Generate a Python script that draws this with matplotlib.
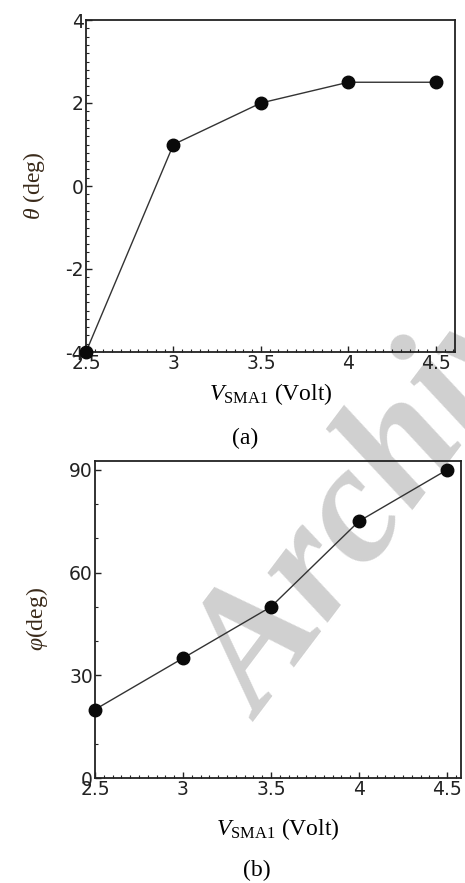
import matplotlib
matplotlib.use("Agg")
import matplotlib.pyplot as plt
from matplotlib.ticker import MultipleLocator

plt.rcParams["mathtext.fontset"] = "custom"
plt.rcParams["mathtext.rm"] = "Liberation Serif"
plt.rcParams["mathtext.it"] = "Liberation Serif:italic"
plt.rcParams["mathtext.bf"] = "Liberation Serif:bold"

v_sma1 = [2.5, 3.0, 3.5, 4.0, 4.5]
theta_deg = [-4.0, 1.0, 2.0, 2.5, 2.5]
phi_deg = [20, 35, 50, 75, 90]
x_ticks = [2.5, 3, 3.5, 4, 4.5]
x_tick_labels = ["2.5", "3", "3.5", "4", "4.5"]
theta_ticks = [-4, -2, 0, 2, 4]
phi_ticks = [0, 30, 60, 90]

W, H = 465, 883
fig = plt.figure(figsize=(W / 100, H / 100), dpi=100)

def axrect(l, t, r, b):
    return [l / W, 1 - b / H, (r - l) / W, (b - t) / H]

tick_font = dict(family="DejaVu Sans", size=13.5)
label_font = dict(family="Liberation Serif", size=17)

def style(ax):
    ax.set_facecolor("none")
    ax.set_zorder(2)
    for s in ax.spines.values():
        s.set_linewidth(1.3)
        s.set_color("#222222")
    ax.tick_params(axis="both", which="both", direction="in", top=False, right=False,
                   pad=1.5, colors="#222222")
    ax.tick_params(which="major", length=4, width=1.0)
    ax.tick_params(which="minor", length=2.5, width=0.8)
    ax.set_xticks(x_ticks)
    ax.set_xticklabels(x_tick_labels, **tick_font)
    ax.xaxis.set_minor_locator(MultipleLocator(0.05))

# (a)
ax1 = fig.add_axes(axrect(86, 20, 455, 352))
ax1.plot(v_sma1, theta_deg, color="#333333", lw=1.0, marker="o", ms=9,
         mfc="#0a0a0a", mec="#0a0a0a", clip_on=False, zorder=3)
ax1.set_xlim(2.5, 4.61)
ax1.set_ylim(-4, 4)
style(ax1)
ax1.set_yticks(theta_ticks)
ax1.set_yticklabels([str(t) for t in theta_ticks], **tick_font)
ax1.yaxis.set_minor_locator(MultipleLocator(0.2))
ax1.set_xlabel(r"$V_{\mathrm{SMA1}}$ (Volt)", labelpad=6, **label_font)
ax1.set_ylabel(r"$\theta$ (deg)", labelpad=13, color="#3a2a1a", **label_font)

# (b)
ax2 = fig.add_axes(axrect(95, 461, 461, 778))
ax2.plot(v_sma1, phi_deg, color="#333333", lw=1.0, marker="o", ms=9,
         mfc="#0a0a0a", mec="#0a0a0a", clip_on=False, zorder=3)
ax2.set_xlim(2.5, 4.58)
ax2.set_ylim(0, 92.6)
style(ax2)
ax2.set_yticks(phi_ticks)
ax2.set_yticklabels([str(t) for t in phi_ticks], **tick_font)
ax2.yaxis.set_minor_locator(MultipleLocator(10))
ax2.set_xlabel(r"$V_{\mathrm{SMA1}}$ (Volt)", labelpad=12, **label_font)
ax2.set_ylabel(r"$\varphi$(deg)", labelpad=14, color="#3a2a1a", **label_font)

fig.text(245 / W, 1 - 438 / H, "(a)", ha="center", va="center", **label_font)
fig.text(257 / W, 1 - 870 / H, "(b)", ha="center", va="center", **label_font)

# watermark (behind data)
fig.text(262 / W, 1 - 722 / H, "Archive", ha="left", va="baseline", rotation=53,
         rotation_mode="anchor", family="Liberation Serif", style="italic",
         weight="bold", size=122, color="#d0d0d0", zorder=1)

fig.savefig("out.png", dpi=100)
